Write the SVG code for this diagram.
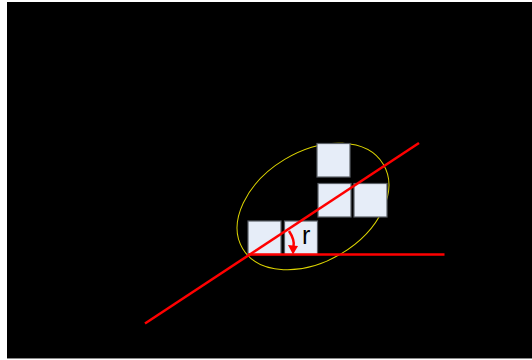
<svg xmlns="http://www.w3.org/2000/svg" width="532" height="360" viewBox="0 0 532 360">
<defs>
<style>
.box{fill:#e6edf8;stroke:#5a5f66;stroke-width:1.2}
.red{stroke:#ff0000;stroke-width:2.5;fill:none}
</style>
</defs>
<rect x="0" y="0" width="532" height="360" fill="#ffffff"/>
<rect x="7" y="2" width="525" height="356" fill="#000000"/>
<line x1="7" y1="358.5" x2="532" y2="358.5" stroke="#8a8a8a" stroke-width="1"/>
<ellipse cx="313" cy="206.5" rx="82" ry="55" transform="rotate(-31 313 206.5)" fill="none" stroke="#dcd400" stroke-width="1"/>
<g id="box-top"><rect class="box" x="317" y="143.5" width="33" height="33.5"/></g>
<g id="box-mid-left"><rect class="box" x="318" y="183.5" width="33" height="33.5"/></g>
<g id="box-mid-right"><rect class="box" x="354" y="183.5" width="33" height="33.5"/></g>
<g id="box-bot-left"><rect class="box" x="248" y="221" width="33" height="33.5"/></g>
<g id="box-bot-right"><rect class="box" x="284.5" y="221" width="33" height="33.5"/></g>
<g id="connectors">
<line class="red" x1="145" y1="323.5" x2="419" y2="143"/>
<line class="red" x1="248" y1="254.5" x2="444.5" y2="254.5"/>
<path class="red" d="M289,231 Q295,240 293.5,247"/>
<path d="M288,245 L298,246 L293,254.5 Z" fill="#ff0000"/>
</g>
<text x="302" y="244" font-family="Liberation Sans, Arial, sans-serif" font-size="25" fill="#000000">r</text>
</svg>
